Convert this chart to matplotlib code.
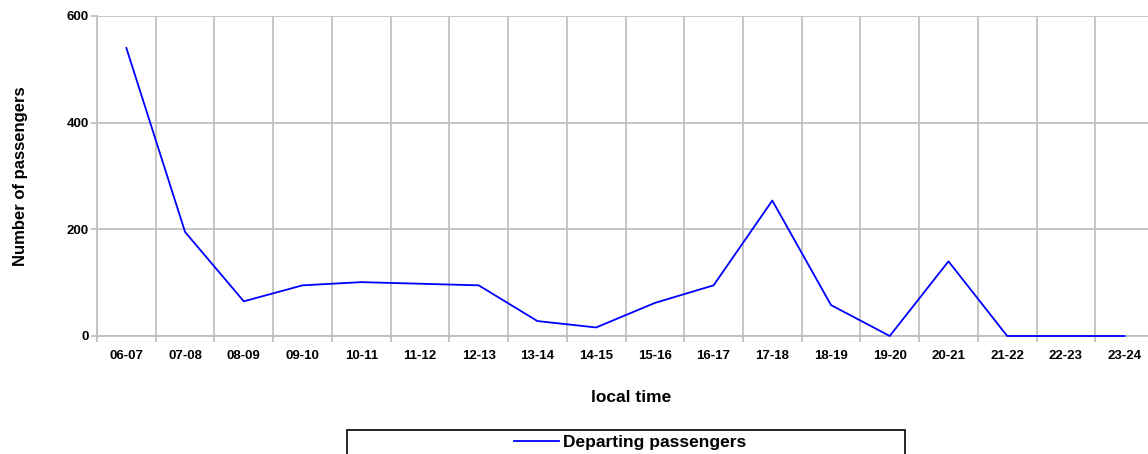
import numpy as np
import matplotlib
matplotlib.use('Agg')
import matplotlib.pyplot as plt
from matplotlib.patches import Rectangle

plt.rcParams['font.family'] = ['Liberation Sans', 'DejaVu Sans']

# hourly slots and departing passengers
slots = ['06-07', '07-08', '08-09', '09-10', '10-11', '11-12', '12-13', '13-14',
         '14-15', '15-16', '16-17', '17-18', '18-19', '19-20', '20-21', '21-22',
         '22-23', '23-24']
departing = [540, 195, 65, 95, 101, 98, 95, 28, 16, 62, 95, 254, 58, 0, 140, 0, 0, 0]

W, H = 1148, 454
fig = plt.figure(figsize=(W/100.0, H/100.0), dpi=100)
ax = fig.add_axes([97.0/W, 1-336.0/H, 1057.0/W, 320.0/H])

x = np.arange(len(slots))
line, = ax.plot(x, departing, '-', color='#0000ff', lw=1.3, zorder=3,
                label='Departing passengers', clip_on=False)

ax.set_xlim(-0.5, len(slots)-0.5)
ax.set_ylim(0, 600)
ax.set_yticks([0, 200, 400, 600])
ax.set_xticks(x)
ax.set_xticklabels(slots)
ax.set_xticks(np.arange(-0.5, len(slots)), minor=True)

ax.grid(True, which='minor', axis='x', color='#c0c0c0', lw=1.3)
ax.grid(True, which='major', axis='y', color='#c0c0c0', lw=1.3)
ax.set_axisbelow(True)

for s in ['top', 'right']:
    ax.spines[s].set_visible(False)
for s in ['left', 'bottom']:
    ax.spines[s].set_color('#c0c0c0')
    ax.spines[s].set_linewidth(1.3)
    ax.spines[s].set_zorder(1)

ax.tick_params(axis='x', which='major', length=0, pad=10, labelsize=9.5)
ax.tick_params(axis='x', which='minor', length=4, color='#c0c0c0', width=1.3)
ax.tick_params(axis='y', length=4, color='#c0c0c0', width=1.3, labelsize=9.5, pad=2)
for lab in ax.get_xticklabels() + ax.get_yticklabels():
    lab.set_fontweight('bold')

ax.set_ylabel('Number of passengers', fontsize=12, fontweight='bold', labelpad=28)
fig.text(631.0/W, 1-398.0/H, 'local time', fontsize=12.5, fontweight='bold',
         ha='center', va='center')

# legend box spanning a fixed width, entry centred inside it
fig.patches.append(Rectangle((347.0/W, -0.05), 558.0/W, 0.05 + 1-430.0/H,
                             transform=fig.transFigure, fill=False,
                             edgecolor='black', lw=1.2))
leg = fig.legend(handles=[line], loc='center',
                 bbox_to_anchor=(630.0/W, 1-442.0/H),
                 frameon=False, borderaxespad=0, handlelength=2.6,
                 handletextpad=0.25, prop={'weight': 'bold', 'size': 12.5})

fig.savefig('out.png', dpi=100)
